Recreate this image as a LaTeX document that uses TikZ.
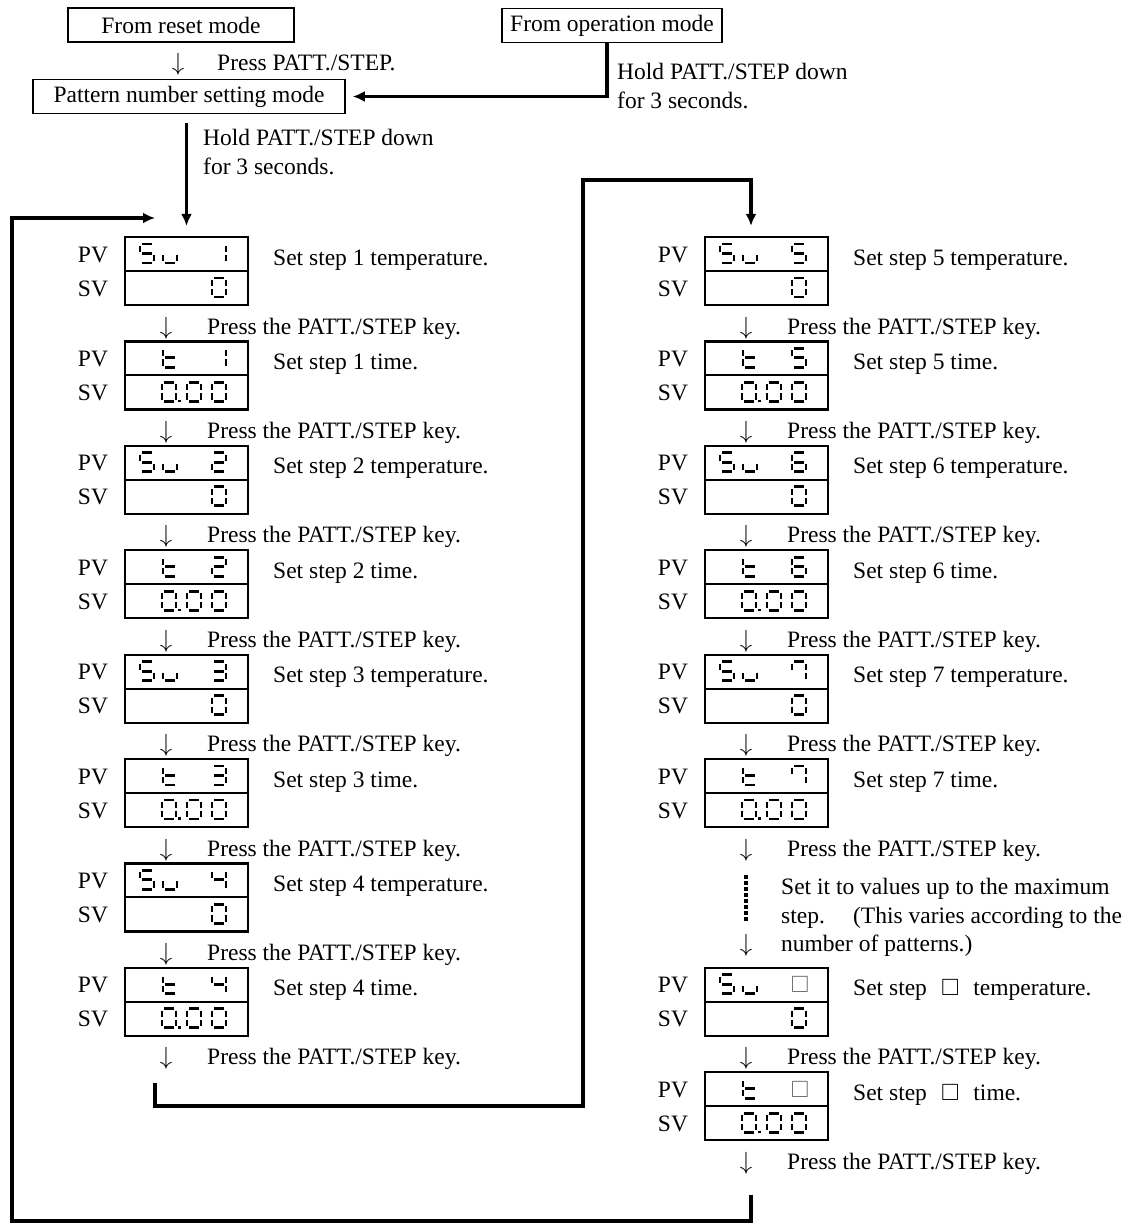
\documentclass[tikz,border=0pt]{standalone}
\usepackage{fontspec}
\setmainfont{Liberation Serif}
\usepackage{amssymb}
\usetikzlibrary{arrows.meta,positioning,math}
\definecolor{boxgray}{RGB}{105,105,105}

% seven segment cell, 14 x 19
\def\lcdpa{(2.3,0) -- (11.7,0)}
\def\lcdpb{(14,1.9) -- (14,8)}
\def\lcdpc{(14,11) -- (14,17.1)}
\def\lcdpd{(2.3,19) -- (11.7,19)}
\def\lcdpe{(0,11) -- (0,17.1)}
\def\lcdpf{(0,1.9) -- (0,8)}
\def\lcdpg{(2.3,9.5) -- (11.7,9.5)}
\def\lcdpp{(17.3,17.4) -- (17.3,19.8)}
\newcommand\lcd[3]{%
\begin{scope}[shift={(#1,#2)}]
\edef\lcdlist{#3}%
\foreach \s in \lcdlist {\edef\lcdtmp{\noexpand\draw[lcdseg] \csname lcdp\s\endcsname;}\lcdtmp}
\end{scope}}
\newcommand\pvSu[1]{\lcd{15}{7}{a,f,g,c,d}\lcd{38}{7}{e,d,c}\lcd{87}{7}{#1}}
\newcommand\pvT[1]{\lcd{38}{7}{f,e,g,d}\lcd{87}{7}{#1}}
\newcommand\svZero{\lcd{87}{41}{a,b,c,d,e,f}}
\newcommand\svTime{\lcd{37}{41}{a,b,c,d,e,f,p}\lcd{62}{41}{a,b,c,d,e,f}\lcd{87}{41}{a,b,c,d,e,f}}

% one display with its labels and the key line below it
\newcommand\dispunit[6]{%
\node[dispbox] (#1) at (#2+61.5,#3+34) {};
\draw[displine] (#1.west) -- (#1.east);
\node[pvsv] (#1pv) at (#2-32,#3+25) {PV};
\node[pvsv] (#1sv) at (#2-32,#3+59) {SV};
\begin{scope}[shift={(#2,#3)}]
#4
#5
\end{scope}
\node[txt] (#1txt) at (#2+148,#3+28) {#6};
\node[pvsv] (#1d) at (#2+41,#3+97) {$\downarrow$};
\node[txt] (#1key) at (#2+82,#3+97) {Press the PATT./STEP key.};
}

\begin{document}
\begin{tikzpicture}[x=1pt,y=-1pt,font=\fontsize{23.5}{29}\selectfont,
txt/.style={anchor=base west,inner sep=0pt},
pvsv/.style={anchor=base,inner sep=0pt},
modebox/.style={draw,line width=1.5pt,minimum height=34pt,inner sep=0pt},
dispbox/.style={draw,line width=2.2pt,minimum width=123pt,minimum height=68pt,inner sep=0pt},
displine/.style={line width=2pt},
lcdseg/.style={line width=2.9pt},
flowline/.style={line width=3.4pt,-{Latex[length=12pt,width=11pt]}},
dotline/.style={line width=3.6pt,dash pattern=on 3.5pt off 2.5pt}]
\useasboundingbox (0,0) rectangle (1131,1224);
\tikzmath{
\pitch=104.4;
\colL=125;
\colR=705;
}

\node[modebox,minimum width=226pt] (reset) at (181,25) {From reset mode};
\node[pvsv] (resetd) at (178,70) {$\downarrow$};
\node[txt] (resetkey) at (217,70) {Press PATT./STEP.};
\node[modebox,minimum width=312pt] (patt) at (189,96.5) {Pattern number setting mode};
\node[modebox,minimum width=220pt] (oper) at (612,25.5) {From operation mode};
\node[txt] (operkey) at (617,79) {Hold PATT./STEP down};
\node[txt] (opersec) at (617,108) {for 3 seconds.};
\node[txt] (pattkey) at (203,145) {Hold PATT./STEP down};
\node[txt] (pattsec) at (203,174) {for 3 seconds.};

%%%%%%%%%%   left column
\foreach \k/\n/\seg in {1/1/{b,c},2/2/{a,b,g,e,d},3/3/{a,b,g,c,d},4/4/{f,g,b,c}}{
\pgfmathsetmacro\Ta{237+\pitch*(2*\k-2)}
\pgfmathsetmacro\Tb{237+\pitch*(2*\k-1)}
\pgfmathtruncatemacro\ra{2*\k-1}
\pgfmathtruncatemacro\rb{2*\k}
\dispunit{L\ra}{\colL}{\Ta}{\pvSu{\seg}}{\svZero}{Set step \n\ temperature.}
\dispunit{L\rb}{\colL}{\Tb}{\pvT{\seg}}{\svTime}{Set step \n\ time.}
}

%%%%%%%%%%   right column
\foreach \k/\n/\seg in {1/5/{a,f,g,c,d},2/6/{a,f,g,e,c,d},3/7/{a,b,c,f}}{
\pgfmathsetmacro\Ta{237+\pitch*(2*\k-2)}
\pgfmathsetmacro\Tb{237+\pitch*(2*\k-1)}
\pgfmathtruncatemacro\ra{2*\k-1}
\pgfmathtruncatemacro\rb{2*\k}
\dispunit{R\ra}{\colR}{\Ta}{\pvSu{\seg}}{\svZero}{Set step \n\ temperature.}
\dispunit{R\rb}{\colR}{\Tb}{\pvT{\seg}}{\svTime}{Set step \n\ time.}
}
\node[pvsv] (Rmore) at (746,951) {$\downarrow$};
\draw[dotline,shorten <=14pt,shorten >=13pt] (R6d.south) -- (Rmore.north);
\node[txt] (more1) at (781,894) {Set it to values up to the maximum};
\node[txt] (more2) at (781,923) {step.\hspace{1.2em}(This varies according to the};
\node[txt] (more3) at (781,951) {number of patterns.)};
\dispunit{R7}{\colR}{237+7*\pitch}{\pvSu{}\node[pvsv,anchor=center,text=boxgray] (R7sq) at (95,17) {$\square$};}{\svZero}{Set step\hspace{.6em}$\square$\hspace{.6em}temperature.}
\dispunit{R8}{\colR}{237+8*\pitch}{\pvT{}\node[pvsv,anchor=center,text=boxgray] (R8sq) at (95,17) {$\square$};}{\svTime}{Set step\hspace{.6em}$\square$\hspace{.6em}time.}

%%%%%%%%%%   flow lines
\draw[flowline] ([xshift=-5pt]oper.south) |- ([xshift=7pt]patt.east);
\draw[flowline,shorten <=9pt,shorten >=10pt] (patt.south -| L1.north) -- (L1.north);
\coordinate (Lend) at (155,1083);
\draw[flowline] (Lend) |- (583,1106) |- (751,180) -- ([xshift=-15.5pt,yshift=10pt]R1.north);
\coordinate (Rend) at (751,1195);
\coordinate (Lin) at (155,218);
\draw[flowline] (Rend) |- (12,1221) |- (Lin);

\end{tikzpicture}
\end{document}
